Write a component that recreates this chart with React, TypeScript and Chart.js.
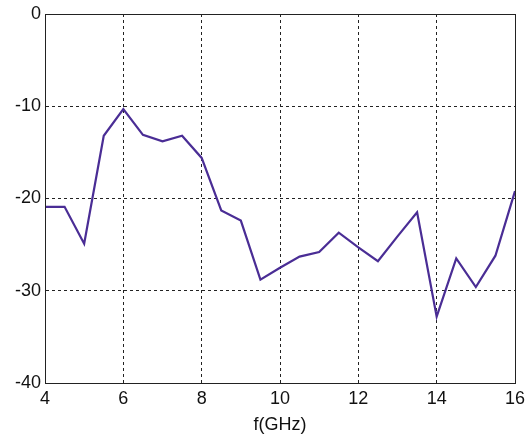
import React, { useEffect, useRef } from "react";
import { Chart, registerables } from "chart.js";

Chart.register(...registerables);

// Frequency sweep (GHz) and measured response (dB)
const freqGHz = [4, 4.5, 5, 5.5, 6, 6.5, 7, 7.5, 8, 8.5, 9, 9.5, 10, 10.5, 11, 11.5, 12, 12.5, 13, 13.5, 14, 14.5, 15, 15.5, 16];
const responseDb = [-20.9, -20.9, -24.9, -13.2, -10.3, -13.1, -13.8, -13.2, -15.6, -21.3, -22.4, -28.8, -27.5, -26.3, -25.8, -23.7, -25.3, -26.8, -24.1, -21.5, -32.8, -26.5, -29.6, -26.2, -19.2];

const xTicks = [4, 6, 8, 10, 12, 14, 16];
const yTicks = [-40, -30, -20, -10, 0];
const xTitle = "f(GHz)";

// Solid box around the plotting area
const frame = {
  id: "frame",
  afterDatasetsDraw(chart: any) {
    const { ctx, chartArea } = chart;
    ctx.save();
    ctx.strokeStyle = "#222";
    ctx.lineWidth = 1;
    ctx.strokeRect(
      Math.round(chartArea.left) + 0.5,
      Math.round(chartArea.top) + 0.5,
      Math.round(chartArea.right - chartArea.left),
      Math.round(chartArea.bottom - chartArea.top)
    );
    ctx.restore();
  },
};

export default function App() {
  const ref = useRef<HTMLCanvasElement>(null);

  useEffect(() => {
    if (!ref.current) return;
    const font = { family: "'Liberation Sans', Arial, sans-serif", size: 18 };
    const chart = new Chart(ref.current, {
      type: "line",
      data: {
        datasets: [
          {
            data: freqGHz.map((f, i) => ({ x: f, y: responseDb[i] })),
            borderColor: "#4a2d95",
            borderWidth: 2.2,
            pointRadius: 0,
            tension: 0,
            fill: false,
          },
        ],
      },
      options: {
        animation: false,
        responsive: false,
        events: [],
        layout: { padding: { left: 0, right: 10, top: 14, bottom: 0 } },
        plugins: { legend: { display: false }, tooltip: { enabled: false } },
        scales: {
          x: {
            type: "linear",
            min: 4,
            max: 16,
            afterBuildTicks: (s: any) => {
              s.ticks = xTicks.map((v) => ({ value: v }));
            },
            ticks: { color: "#111", font, padding: 5, maxRotation: 0 },
            grid: { color: "#222", lineWidth: 1, drawTicks: false },
            border: { display: true, color: "#222", width: 1, dash: [3, 3] },
            title: { display: true, text: xTitle, color: "#111", font, padding: { top: 0, bottom: 0 } },
            afterFit: (s: any) => {
              s.height = 53;
              s.paddingLeft = 0;
              s.paddingRight = 0;
            },
          },
          y: {
            type: "linear",
            min: -40,
            max: 0,
            afterBuildTicks: (s: any) => {
              s.ticks = yTicks.map((v) => ({ value: v }));
            },
            ticks: { color: "#111", font, padding: 4 },
            grid: { color: "#222", lineWidth: 1, drawTicks: false },
            border: { display: true, color: "#222", width: 1, dash: [3, 3] },
            afterFit: (s: any) => {
              s.width = 45;
              s.paddingTop = 0;
              s.paddingBottom = 0;
            },
          },
        },
      },
      plugins: [frame],
    });
    return () => chart.destroy();
  }, []);

  return (
    <div style={{ position: "fixed", left: 0, top: 0, width: 525, height: 436, background: "#fff" }}>
      <canvas ref={ref} width={525} height={436} style={{ display: "block" }} />
    </div>
  );
}
